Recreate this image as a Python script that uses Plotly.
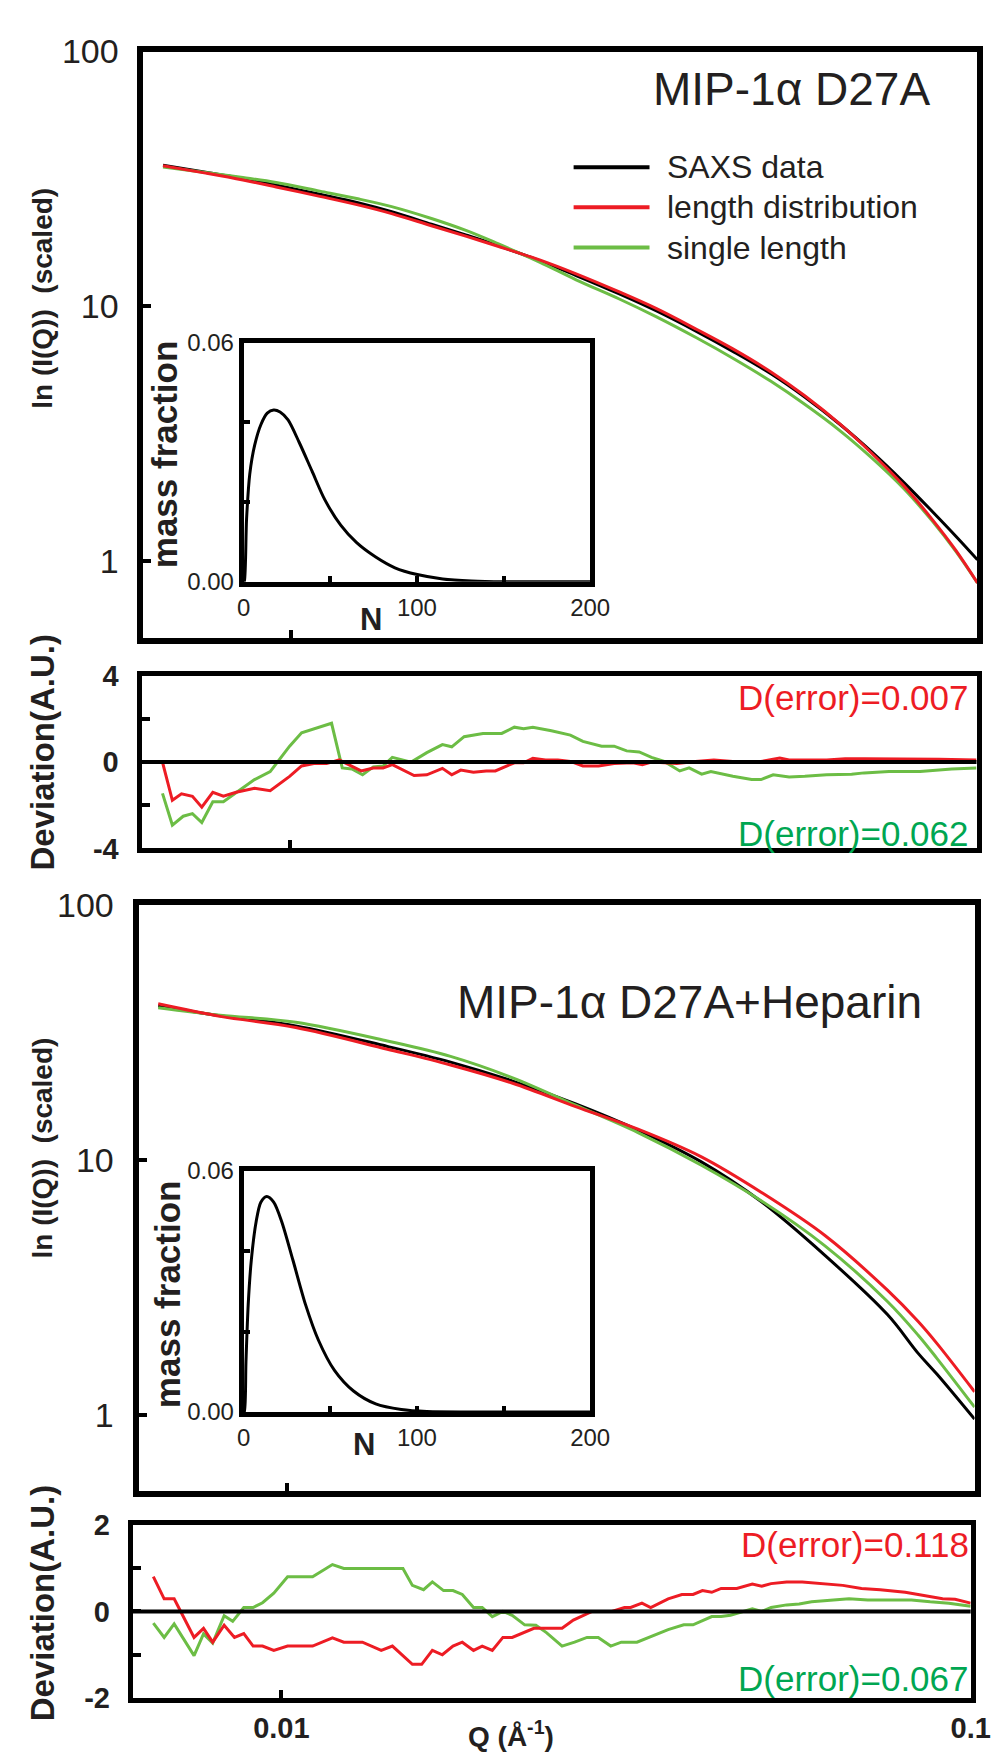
import plotly.graph_objects as go

W, H = 1007, 1762
FONT = "Liberation Sans, Arial, Helvetica, sans-serif"
TXT = "#231f20"
BLACK = "#000000"
RED = "#ed1c24"
GREEN = "#6cbd45"
GREEN_TXT = "#00a651"

# ---------------- Panel A: MIP-1α D27A ----------------
q_a = [0.0065, 0.0075, 0.0085, 0.0095, 0.011, 0.0125, 0.014, 0.016, 0.018, 0.020,
       0.023, 0.026, 0.030, 0.034, 0.039, 0.044, 0.050, 0.056, 0.063, 0.070,
       0.078, 0.086, 0.093, 0.1]
saxs_a = [35.8, 33.6, 31.7, 29.9, 27.5, 25.5, 23.5, 21.0, 19.0, 17.3,
          15.1, 13.2, 11.2, 9.6, 7.95, 6.65, 5.43, 4.40, 3.44, 2.69,
          2.04, 1.56, 1.25, 1.01]
dist_a = [35.6, 33.3, 31.3, 29.4, 27.0, 25.0, 23.1, 20.7, 18.8, 17.2,
          15.2, 13.4, 11.4, 9.8, 8.1, 6.8, 5.52, 4.45, 3.45, 2.66,
          1.98, 1.45, 1.10, 0.82]
single_a = [35.2, 33.5, 32.0, 30.6, 28.3, 26.4, 24.6, 22.1, 19.8, 17.6,
            14.9, 12.7, 10.7, 9.1, 7.5, 6.25, 5.07, 4.12, 3.25, 2.55,
            1.93, 1.43, 1.09, 0.82]

# deviations, panel A
q_dev_a_dist = [0.00653, 0.00675, 0.00696, 0.00722, 0.00745, 0.00773, 0.00801, 0.00836, 0.00889, 0.00937,
                0.01, 0.01041, 0.01085, 0.01132, 0.01181, 0.01271, 0.01324, 0.01368, 0.01411, 0.01518,
                0.01584, 0.01669, 0.01722, 0.01775, 0.01852, 0.01933, 0.01993, 0.02124, 0.02191, 0.02260,
                0.02358, 0.02458, 0.02563, 0.02673, 0.02817, 0.02968, 0.03160, 0.03262, 0.03364, 0.03662,
                0.03896, 0.04146, 0.04419, 0.04856, 0.05171, 0.05336, 0.06052, 0.06439, 0.06861, 0.07780,
                0.08821, 0.1]
dev_a_dist = [0.0, -1.77, -1.47, -1.59, -2.09, -1.40, -1.58, -1.40, -1.21, -1.33,
              -0.66, -0.18, -0.07, -0.07, 0.10, -0.41, -0.27, -0.27, -0.12, -0.62,
              -0.59, -0.29, -0.59, -0.37, -0.47, -0.41, -0.41, -0.03, -0.03, 0.18,
              0.10, 0.10, 0.03, -0.18, -0.18, -0.07, -0.03, -0.12, 0.0, -0.07,
              0.03, 0.10, 0.03, 0.03, 0.19, 0.10, 0.10, 0.15, 0.15, 0.15,
              0.13, 0.10]
q_dev_a_single = [0.00653, 0.00675, 0.00700, 0.00722, 0.00745, 0.00773, 0.00801, 0.00836, 0.00889, 0.00937,
                  0.01, 0.01041, 0.01085, 0.01151, 0.01193, 0.01232, 0.01277, 0.01324, 0.01368, 0.01411,
                  0.01503, 0.01584, 0.01669, 0.01722, 0.01795, 0.01912, 0.02036, 0.02124, 0.02191, 0.02260,
                  0.02405, 0.02563, 0.02673, 0.02846, 0.02968, 0.03095, 0.03228, 0.03364, 0.03510, 0.03698,
                  0.03816, 0.03980, 0.04105, 0.04419, 0.04706, 0.04856, 0.05058, 0.05336, 0.05624, 0.06052,
                  0.06579, 0.06861, 0.07457, 0.08277, 0.09199, 0.1]
dev_a_single = [-1.45, -2.92, -2.51, -2.39, -2.80, -1.84, -1.84, -1.40, -0.81, -0.44,
                0.74, 1.36, 1.55, 1.80, -0.27, -0.32, -0.59, -0.22, -0.18, 0.22,
                0.0, 0.44, 0.81, 0.71, 1.18, 1.33, 1.33, 1.62, 1.55, 1.62,
                1.45, 1.25, 0.96, 0.74, 0.74, 0.52, 0.47, 0.22, 0.03, -0.41,
                -0.27, -0.56, -0.44, -0.66, -0.81, -0.81, -0.59, -0.69, -0.66, -0.59,
                -0.56, -0.50, -0.44, -0.44, -0.32, -0.27]

# inset A: length distribution
n_a = [0, 0.4, 1.66, 3.5, 6.3, 9.9, 13.6, 17.3, 21, 25.6, 32, 39.4, 46.8, 56, 65.2,
       76.2, 87.3, 100.2, 114.9, 131.5, 150, 200]
mf_a = [0, 0.0002, 0.0158, 0.0270, 0.0342, 0.0394, 0.0423, 0.0431, 0.0426, 0.0406, 0.035,
        0.0278, 0.0206, 0.0142, 0.0098, 0.0062, 0.0035, 0.0018, 0.0007, 0.0002, 0.0, 0.0]

# ---------------- Panel B: MIP-1α D27A+Heparin ----------------
q_b = [0.0065, 0.008, 0.0103, 0.014, 0.0173, 0.0213, 0.0263, 0.0324, 0.040, 0.049,
       0.0606, 0.0747, 0.0828, 0.0882, 0.1]
saxs_b = [40.3, 36.8, 33.6, 27.9, 24.2, 20.4, 16.6, 13.1, 9.85, 6.85, 4.22, 2.47, 1.74, 1.44, 0.96]
dist_b = [41.0, 36.6, 33.1, 27.2, 23.6, 20.0, 16.2, 13.2, 10.3, 7.45, 5.05, 3.08, 2.32, 1.90, 1.23]
single_b = [39.6, 37.0, 34.7, 29.3, 25.5, 21.0, 16.4, 12.8, 9.55, 6.9, 4.6, 2.78, 2.05, 1.66, 1.07]

q_dev_b_dist = [0.00652, 0.00676, 0.00699, 0.00747, 0.00771, 0.00795, 0.00826, 0.00855, 0.00882, 0.00910,
                0.00939, 0.00975, 0.01021, 0.01110, 0.01186, 0.01232, 0.01311, 0.01396, 0.01449, 0.01549,
                0.01598, 0.01656, 0.01712, 0.01774, 0.01830, 0.01900, 0.01956, 0.02023, 0.02096, 0.02162,
                0.02325, 0.02450, 0.02554, 0.02652, 0.02823, 0.03017, 0.03146, 0.03212, 0.03335, 0.03434,
                0.03640, 0.03811, 0.03956, 0.04082, 0.04211, 0.04345, 0.04578, 0.04822, 0.04975, 0.05134,
                0.05408, 0.05697, 0.06128, 0.06524, 0.06944, 0.07392, 0.08035, 0.08553, 0.09105, 0.09493,
                0.1]
dev_b_dist = [0.80, 0.29, 0.29, -0.60, -0.39, -0.71, -0.32, -0.60, -0.51, -0.80,
              -0.80, -0.90, -0.80, -0.80, -0.61, -0.71, -0.71, -0.90, -0.80, -1.22,
              -1.22, -0.90, -1.00, -0.80, -0.71, -0.90, -0.80, -0.90, -0.60, -0.60,
              -0.39, -0.39, -0.39, -0.20, 0.0, 0.0, 0.09, 0.09, 0.19, 0.09,
              0.29, 0.39, 0.39, 0.48, 0.44, 0.53, 0.53, 0.63, 0.58, 0.64,
              0.68, 0.68, 0.63, 0.60, 0.53, 0.50, 0.44, 0.36, 0.29, 0.28,
              0.19]
q_dev_b_single = [0.00652, 0.00676, 0.00699, 0.00720, 0.00747, 0.00771, 0.00795, 0.00826, 0.00850, 0.00882,
                  0.00910, 0.00939, 0.00975, 0.01021, 0.01110, 0.01186, 0.01232, 0.01339, 0.01501, 0.01549,
                  0.01608, 0.01656, 0.01719, 0.01774, 0.01830, 0.01900, 0.01956, 0.02023, 0.02096, 0.02162,
                  0.02254, 0.02340, 0.02424, 0.02554, 0.02663, 0.02776, 0.02882, 0.03005, 0.03113, 0.03280,
                  0.03419, 0.03640, 0.03835, 0.03956, 0.04211, 0.04345, 0.04483, 0.04674, 0.04822, 0.04975,
                  0.05134, 0.05408, 0.05638, 0.05878, 0.06257, 0.06661, 0.07091, 0.07707, 0.08204, 0.08734,
                  0.09297, 0.1]
dev_b_single = [-0.27, -0.60, -0.29, -0.63, -1.02, -0.52, -0.73, -0.10, -0.23, 0.09,
                0.09, 0.20, 0.42, 0.80, 0.80, 1.08, 0.99, 0.99, 0.99, 0.60,
                0.50, 0.68, 0.48, 0.48, 0.39, 0.09, 0.09, -0.12, 0.0, -0.09,
                -0.31, -0.32, -0.49, -0.80, -0.71, -0.60, -0.60, -0.80, -0.71, -0.71,
                -0.60, -0.42, -0.31, -0.31, -0.12, -0.12, -0.09, 0.0, 0.06, 0.0,
                0.09, 0.15, 0.17, 0.22, 0.26, 0.29, 0.26, 0.26, 0.26, 0.22,
                0.19, 0.12]

n_b = [0, 0.4, 1.3, 2.6, 4.4, 7.2, 9.9, 13.3, 17.3, 21.9, 28.4, 35.7, 43.1, 52.3, 63.4,
       76.2, 91, 105.7, 138.8, 200]
mf_b = [0, 0.0, 0.0124, 0.0267, 0.0378, 0.0474, 0.0522, 0.0536, 0.0522, 0.0474, 0.0378,
        0.0267, 0.0179, 0.0104, 0.0052, 0.0020, 0.0006, 0.0001, 0.0, 0.0]

# tick labels
main_tickvals = [1, 10, 100]
main_ticktext = ["1", "10", "100"]
q_tickvals = [0.01, 0.1]
q_ticktext = ["0.01", "0.1"]
dev_a_ticks = [-4, -2, 0, 2, 4]
dev_a_text = ["-4", "", "0", "", "4"]
dev_b_ticks = [-2, -1, 0, 1, 2]
dev_b_text = ["-2", "", "0", "", "2"]
n_ticks = [0, 50, 100, 150, 200]
n_text = ["0", "", "100", "", "200"]
mf_ticks = [0, 0.02, 0.04, 0.06]
mf_text = ["0.00", "", "", "0.06"]

LOGQ_RANGE = [-2.2156, -1.0]


# layout helpers: pixel -> paper fraction
def fx(px):
    return px / W


def fy(py):
    return 1 - py / H


def dom_x(x0, x1):
    return [fx(x0), fx(x1)]


def dom_y(y0, y1):  # pixel top, bottom
    return [fy(y1), fy(y0)]


fig = go.Figure()

SPL = dict(shape="spline", smoothing=1.0)

# main panel A
for y, c, nm in [(saxs_a, BLACK, "SAXS data"), (single_a, GREEN, "single length"), (dist_a, RED, "length distribution")]:
    fig.add_trace(go.Scatter(x=q_a, y=y, mode="lines", name=nm, line=dict(color=c, width=3, **SPL),
                             xaxis="x", yaxis="y", showlegend=False))
# dev A
fig.add_trace(go.Scatter(x=q_dev_a_single, y=dev_a_single, mode="lines", name="single length",
                         line=dict(color=GREEN, width=3), xaxis="x2", yaxis="y2", showlegend=False))
fig.add_trace(go.Scatter(x=q_dev_a_dist, y=dev_a_dist, mode="lines", name="length distribution",
                         line=dict(color=RED, width=3), xaxis="x2", yaxis="y2", showlegend=False))
# main panel B
for y, c, nm in [(saxs_b, BLACK, "SAXS data"), (single_b, GREEN, "single length"), (dist_b, RED, "length distribution")]:
    fig.add_trace(go.Scatter(x=q_b, y=y, mode="lines", name=nm, line=dict(color=c, width=3, **SPL),
                             xaxis="x3", yaxis="y3", showlegend=False))
# dev B
fig.add_trace(go.Scatter(x=q_dev_b_single, y=dev_b_single, mode="lines", name="single length",
                         line=dict(color=GREEN, width=3), xaxis="x4", yaxis="y4", showlegend=False))
fig.add_trace(go.Scatter(x=q_dev_b_dist, y=dev_b_dist, mode="lines", name="length distribution",
                         line=dict(color=RED, width=3), xaxis="x4", yaxis="y4", showlegend=False))
# insets
fig.add_trace(go.Scatter(x=n_a, y=mf_a, mode="lines", line=dict(color=BLACK, width=3, shape="spline", smoothing=0.8),
                         xaxis="x5", yaxis="y5", showlegend=False))
fig.add_trace(go.Scatter(x=n_b, y=mf_b, mode="lines", line=dict(color=BLACK, width=3, shape="spline", smoothing=0.8),
                         xaxis="x6", yaxis="y6", showlegend=False))


def frame(lw):
    return dict(showline=True, linecolor=BLACK, linewidth=lw, mirror=True, showgrid=False, zeroline=False,
                ticks="inside", tickcolor=BLACK, tickwidth=4)


tick_reg = dict(family=FONT, size=34, color=TXT)
tick_bold = dict(family=FONT, size=29, color=TXT, weight="bold")
tick_inset = dict(family=FONT, size=24, color=TXT)

layout_axes = dict(
    xaxis=dict(**frame(6), type="log", range=LOGQ_RANGE, domain=dom_x(132, 989), anchor="y",
               tickvals=[0.01], ticktext=[""], ticklen=8, showticklabels=False),
    yaxis=dict(**frame(6), type="log", range=[-0.30103, 2], domain=dom_y(25, 623), anchor="x",
               tickvals=main_tickvals, ticktext=main_ticktext, ticklen=8, tickfont=tick_reg,
               ticklabelstandoff=12),
    xaxis2=dict(**frame(5), type="log", range=LOGQ_RANGE, domain=dom_x(130, 988), anchor="y2",
                tickvals=[0.01], ticktext=[""], ticklen=8, showticklabels=False),
    yaxis2=dict(**frame(5), range=[-4, 4], domain=dom_y(662, 838), anchor="x2",
                tickvals=dev_a_ticks, ticktext=dev_a_text, ticklen=8, tickfont=tick_bold,
                ticklabelstandoff=12),
    xaxis3=dict(**frame(6), type="log", range=LOGQ_RANGE, domain=dom_x(127, 986), anchor="y3",
                tickvals=[0.01], ticktext=[""], ticklen=8, showticklabels=False),
    yaxis3=dict(**frame(6), type="log", range=[-0.30103, 2], domain=dom_y(896, 1494), anchor="x3",
                tickvals=main_tickvals, ticktext=main_ticktext, ticklen=8, tickfont=tick_reg,
                ticklabelstandoff=12),
    xaxis4=dict(**frame(5), type="log", range=LOGQ_RANGE, domain=dom_x(121, 982), anchor="y4",
                tickvals=q_tickvals, ticktext=q_ticktext, ticklen=8, tickfont=tick_bold),
    yaxis4=dict(**frame(5), range=[-2, 2], domain=dom_y(1528, 1705), anchor="x4",
                tickvals=dev_b_ticks, ticktext=dev_b_text, ticklen=8, tickfont=tick_bold,
                ticklabelstandoff=12),
    xaxis5=dict(**frame(5), range=[0, 200], domain=dom_x(235, 591), anchor="y5",
                tickvals=n_ticks, ticktext=n_text, ticklen=6, tickfont=tick_inset),
    yaxis5=dict(**frame(5), range=[0, 0.06], domain=dom_y(322, 566), anchor="x5",
                tickvals=mf_ticks, ticktext=mf_text, ticklen=6, tickfont=tick_inset),
    xaxis6=dict(**frame(5), range=[0, 200], domain=dom_x(235, 591), anchor="y6",
                tickvals=n_ticks, ticktext=n_text, ticklen=6, tickfont=tick_inset),
    yaxis6=dict(**frame(5), range=[0, 0.06], domain=dom_y(1167, 1413), anchor="x6",
                tickvals=mf_ticks, ticktext=mf_text, ticklen=6, tickfont=tick_inset),
)


def ann(text, px, py, size, color=TXT, bold=False, xanchor="center", angle=0, yanchor="middle"):
    return dict(text=text, x=fx(px), y=fy(py), xref="paper", yref="paper", showarrow=False,
                xanchor=xanchor, yanchor=yanchor, textangle=angle,
                font=dict(family=FONT, size=size, color=color, weight="bold" if bold else "normal"))


annotations = [
    ann("MIP-1α D27A", 942, 63, 46, xanchor="right"),
    ann("MIP-1α D27A+Heparin", 934, 995, 46, xanchor="right"),
    ann("SAXS data", 668, 143, 32, xanchor="left"),
    ann("length distribution", 668, 184, 32, xanchor="left"),
    ann("single length", 668, 225, 32, xanchor="left"),
    ann("ln (I(Q))  (scaled)", 28, 277, 28, bold=True, angle=-90),
    ann("ln (I(Q))  (scaled)", 28, 1144, 28, bold=True, angle=-90),
    ann("Deviation(A.U.)", 28, 740, 33, bold=True, angle=-90),
    ann("Deviation(A.U.)", 28, 1608, 33, bold=True, angle=-90),
    ann("D(error)=0.007", 982, 684, 35, color=RED, xanchor="right"),
    ann("D(error)=0.062", 982, 823, 35, color=GREEN_TXT, xanchor="right"),
    ann("D(error)=0.118", 982, 1548, 35, color=RED, xanchor="right"),
    ann("D(error)=0.067", 982, 1685, 35, color=GREEN_TXT, xanchor="right"),
    ann("mass fraction", 153, 436, 35, bold=True, angle=-90),
    ann("mass fraction", 156, 1293, 35, bold=True, angle=-90),
    ann("N", 366, 604, 31, bold=True),
    ann("N", 359, 1446, 31, bold=True),
    ann("Q (Å<sup>-1</sup>)", 510, 1742, 28, bold=True),
]

shapes = [
    dict(type="line", xref="x2 domain", yref="y2", x0=0, x1=1, y0=0, y1=0, line=dict(color=BLACK, width=4)),
    dict(type="line", xref="x4 domain", yref="y4", x0=0, x1=1, y0=0, y1=0, line=dict(color=BLACK, width=4)),
]
# legend swatches
for row_y, c in [(143, BLACK), (184, RED), (225, GREEN)]:
    shapes.append(dict(type="line", xref="paper", yref="paper", x0=fx(574), x1=fx(652),
                       y0=fy(row_y), y1=fy(row_y), line=dict(color=c, width=4)))

fig.update_layout(
    width=W, height=H, autosize=False,
    margin=dict(l=0, r=0, t=0, b=0),
    paper_bgcolor="white", plot_bgcolor="white",
    showlegend=False,
    annotations=annotations, shapes=shapes,
    font=dict(family=FONT, color=TXT),
    **layout_axes,
)

fig.write_html("out.html")
